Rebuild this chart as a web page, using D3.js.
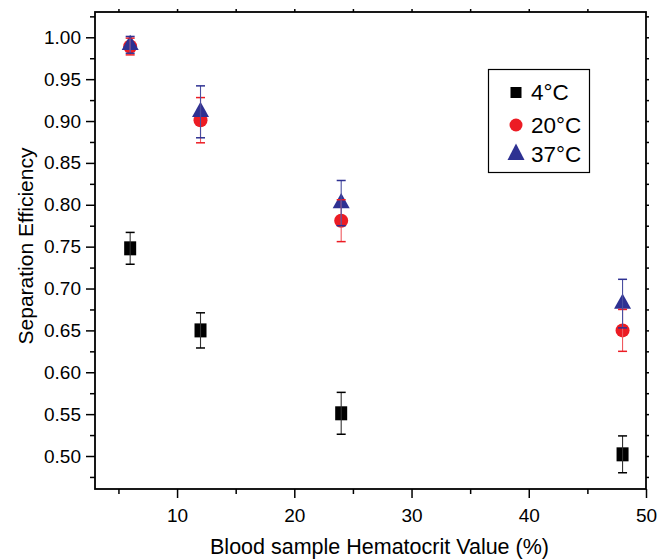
<!DOCTYPE html>
<html>
<head>
<meta charset="utf-8">
<script src="https://cdn.jsdelivr.net/npm/d3@7"></script>
<style>
  body { margin: 0; background: #fff; }
  svg text { font-family: "Liberation Sans", Arial, Helvetica, sans-serif; fill: #000; }
</style>
</head>
<body>
<svg id="chart" width="658" height="559"></svg>
<script>
// Data
var hematocrit = [6, 12, 24, 48];
var eff4 = [0.748, 0.650, 0.551, 0.502];
var err4 = [0.019, 0.021, 0.025, 0.022];
var eff20 = [0.989, 0.901, 0.781, 0.650];
var err20 = [0.010, 0.027, 0.025, 0.025];
var eff37 = [0.991, 0.911, 0.802, 0.682];
var err37 = [0.010, 0.031, 0.027, 0.029];
var seriesNames = ["4\u00B0C", "20\u00B0C", "37\u00B0C"];

// Ticks
var xTicks = [10, 20, 30, 40, 50];
var xMinor = [5, 15, 25, 35, 45];
var yTicks = [0.50, 0.55, 0.60, 0.65, 0.70, 0.75, 0.80, 0.85, 0.90, 0.95, 1.00];
var yMinor = [0.475, 0.525, 0.575, 0.625, 0.675, 0.725, 0.775, 0.825, 0.875, 0.925, 0.975, 1.025];

// Plot area
var plotLeft = 95, plotRight = 646, plotTop = 12, plotBottom = 489;

var svg = d3.select("#chart");

var xScale = d3.scaleLinear().domain([3, 50]).range([plotLeft, plotRight]);
var yScale = d3.scaleLinear().domain([0.4606, 1.0302]).range([plotBottom, plotTop]);

var colors = ["#000000", "#ec1c24", "#2e3192"];
var barColors = ["#333333", "#ef5a5f", "#4a4ea0"];

// Build series
var series = [
    { name: seriesNames[0], shape: "square", color: colors[0], bar: barColors[0],
      points: hematocrit.map(function (h, i) { return { x: h, y: eff4[i], e: err4[i] }; }) },
    { name: seriesNames[1], shape: "circle", color: colors[1], bar: barColors[1],
      points: hematocrit.map(function (h, i) { return { x: h, y: eff20[i], e: err20[i] }; }) },
    { name: seriesNames[2], shape: "triangle", color: colors[2], bar: barColors[2],
      points: hematocrit.map(function (h, i) { return { x: h, y: eff37[i], e: err37[i] }; }) }
];

// Axes
function styleAxis(g) {
    g.select(".domain").remove();
    g.selectAll(".tick line").attr("stroke", "#000").attr("stroke-width", 1.5);
    g.selectAll(".tick text").style("font-size", "19px");
}

svg.append("g")
    .attr("transform", "translate(0," + plotBottom + ")")
    .call(d3.axisBottom(xScale).tickValues(xTicks).tickSize(9).tickPadding(11).tickFormat(d3.format("d")))
    .call(styleAxis);

svg.append("g")
    .attr("transform", "translate(0," + plotBottom + ")")
    .call(d3.axisBottom(xScale).tickValues(xMinor).tickSize(5).tickFormat(""))
    .call(styleAxis);

svg.append("g")
    .attr("transform", "translate(" + plotLeft + ",0)")
    .call(d3.axisLeft(yScale).tickValues(yTicks).tickSize(9).tickPadding(5).tickFormat(d3.format(".2f")))
    .call(styleAxis);

svg.append("g")
    .attr("transform", "translate(" + plotLeft + ",0)")
    .call(d3.axisLeft(yScale).tickValues(yMinor).tickSize(5).tickFormat(""))
    .call(styleAxis);

// top and right small ticks
svg.append("g")
    .attr("transform", "translate(0," + plotTop + ")")
    .call(d3.axisTop(xScale).tickValues(xMinor.concat(xTicks.slice(0, 4))).tickSize(3).tickFormat(""))
    .call(styleAxis);

svg.append("g")
    .attr("transform", "translate(" + plotRight + ",0)")
    .call(d3.axisRight(yScale).tickValues(yMinor.concat(yTicks)).tickSize(3).tickFormat(""))
    .call(styleAxis);

// Frame
svg.append("rect")
    .attr("x", plotLeft)
    .attr("y", plotTop)
    .attr("width", plotRight - plotLeft)
    .attr("height", plotBottom - plotTop)
    .attr("fill", "none")
    .attr("stroke", "#000")
    .attr("stroke-width", 1.8);

// Axis titles
svg.append("text")
    .attr("x", (211 + 548) / 2)
    .attr("y", 554)
    .style("text-anchor", "middle")
    .style("font-size", "21.5px")
    .text("Blood sample Hematocrit Value (%)");

svg.append("text")
    .attr("transform", "translate(33,246) rotate(-90)")
    .style("text-anchor", "middle")
    .style("font-size", "21px")
    .text("Separation Efficiency");

// Marker drawing
function drawMarker(g, shape, color, size) {
    if (shape === "square") {
        g.append("rect")
            .attr("x", -size.w / 2).attr("y", -size.h / 2)
            .attr("width", size.w).attr("height", size.h)
            .attr("fill", color);
    } else if (shape === "circle") {
        g.append("circle").attr("r", size.r).attr("fill", color);
    } else {
        g.append("path")
            .attr("d", "M0," + (-size.up) + "L" + size.half + "," + size.down + "L" + (-size.half) + "," + size.down + "Z")
            .attr("fill", color);
    }
}

var markerSizes = {
    square: { w: 12, h: 14 },
    circle: { r: 7 },
    triangle: { up: 10, down: 5.2, half: 8.5 }
};

// Markers
series.forEach(function (s) {
    var grp = svg.append("g").attr("class", "series");
    s.points.forEach(function (p) {
        var m = grp.append("g")
            .attr("transform", "translate(" + xScale(p.x) + "," + yScale(p.y) + ")");
        drawMarker(m, s.shape, s.color, markerSizes[s.shape]);
    });
});

// Error bars on top
series.forEach(function (s) {
    var grp = svg.append("g").attr("class", "errorbars");
    s.points.forEach(function (p) {
        var cx = xScale(p.x);
        var y1 = yScale(p.y + p.e), y2 = yScale(p.y - p.e);
        grp.append("line")
            .attr("x1", cx).attr("x2", cx).attr("y1", y1).attr("y2", y2)
            .attr("stroke", s.bar).attr("stroke-width", 1.1);
        [y1, y2].forEach(function (yy) {
            grp.append("line")
                .attr("x1", cx - 4.5).attr("x2", cx + 4.5).attr("y1", yy).attr("y2", yy)
                .attr("stroke", s.color).attr("stroke-width", 1.5);
        });
    });
});

// Legend
var legend = svg.append("g").attr("class", "legend");
legend.append("rect")
    .attr("x", 488.5).attr("y", 69.5)
    .attr("width", 101).attr("height", 103)
    .attr("fill", "#fff")
    .attr("stroke", "#000")
    .attr("stroke-width", 1.2);

var legendRows = [92.5, 125, 154];
var legendSizes = {
    square: { w: 11, h: 11 },
    circle: { r: 6.5 },
    triangle: { up: 10.5, down: 6, half: 8.5 }
};
var legendBase = [99.5, 133, 162];
series.forEach(function (s, i) {
    var m = legend.append("g").attr("transform", "translate(516," + legendRows[i] + ")");
    drawMarker(m, s.shape, s.color, legendSizes[s.shape]);
    legend.append("text")
        .attr("x", 531)
        .attr("y", legendBase[i])
        .style("font-size", "22.5px")
        .text(s.name);
});
</script>
</body>
</html>
